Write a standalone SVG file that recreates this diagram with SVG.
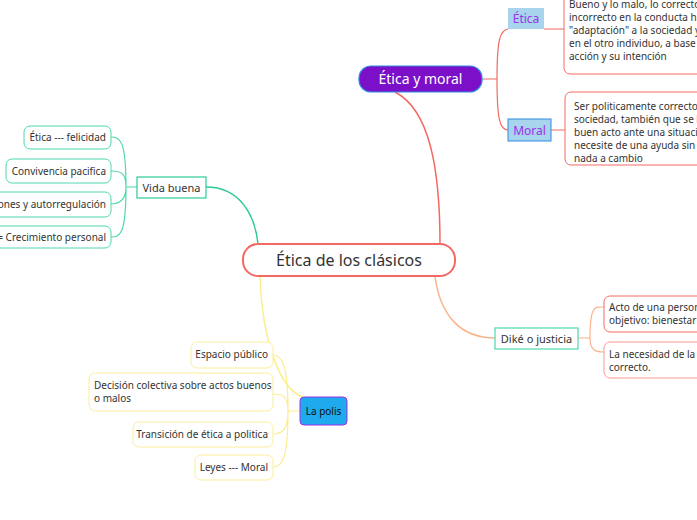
<svg xmlns="http://www.w3.org/2000/svg" width="697" height="520" viewBox="0 0 697 520">
<style>
text{font-family:"Noto Sans","Liberation Sans",sans-serif;fill:#333}
.s{font-size:10px}
.red{fill:#fff;stroke:#F26A63;stroke-width:1}
.grn{fill:#fff;stroke:#4FD8B0;stroke-width:1}
.yel{fill:#fff;stroke:#FBEE9C;stroke-width:1}
.org{fill:#fff;stroke:#F59A8E;stroke-width:1}
</style>
<rect width="697" height="520" fill="#fff"/>
<g id="connectors" fill="none" stroke-width="1.5">
<path d="M440 244 C440 170 430 110 395 92" stroke="#F26A63"/>
<path d="M482 79 L497 79 M497 79 C497 40 500 30 508 29 M497 79 C497 120 500 130 508 130" stroke="#F26A63" stroke-width="1.2"/>
<path d="M544 29 L564 29 M551 130 L565 130" stroke="#F26A63" stroke-width="1.2"/>
<path d="M258 244 C255 215 240 187 206 187" stroke="#2DCB9A"/>
<path d="M137 187 L126 187 M126 187 C126 140 120 137 111 137 M126 187 C126 172 120 171 111 171 M126 187 C126 200 120 204 111 204 M126 187 C126 235 120 237 111 237" stroke="#4FD8B0" stroke-width="1.2"/>
<path d="M435 276 C440 315 460 338 495 338" stroke="#F9B489"/>
<path d="M578 338 L590 338 M590 338 C590 305 595 307 604 307 M590 338 C590 350 595 352 604 352" stroke="#F9B489" stroke-width="1.2"/>
<path d="M260 276 C262 340 280 390 303 397" stroke="#FBEE8C"/>
<path d="M300 411 L288 411 M288 411 C288 365 282 355 273 355 M288 411 C288 395 282 394 273 394 M288 411 C288 430 282 434 273 434 M288 411 C288 460 282 467 273 467" stroke="#FBEE8C" stroke-width="1.2"/>
</g>
<g id="root"><rect x="243" y="244" width="212" height="32" rx="15" fill="#fff" stroke="#F26A63" stroke-width="2"/><text x="349" y="266" font-size="16" text-anchor="middle">Ética de los clásicos</text></g>
<g id="etica-moral"><rect x="359" y="66" width="123" height="26" rx="12" fill="#7B10C8" stroke="#2E8DE0" stroke-width="1.2"/><text x="420.5" y="84" font-size="14" text-anchor="middle" style="fill:#fff">Ética y moral</text></g>
<g id="etica"><rect x="508" y="8" width="36" height="21" fill="#A8D4EE"/><text x="526" y="23" font-size="12" text-anchor="middle" style="fill:#9B30E8">Ética</text></g>
<g id="etica-def"><rect class="red" x="564" y="-6" width="150" height="80" rx="6"/><text class="s" x="569" y="8">Bueno y lo malo, lo correcto e</text><text class="s" x="569" y="21">incorrecto en la conducta humana,</text><text class="s" x="569" y="34">"adaptación" a la sociedad y</text><text class="s" x="569" y="47">en el otro individuo, a base de su</text><text class="s" x="569" y="60">acción y su intención</text></g>
<g id="moral"><rect x="508" y="119" width="43" height="22" fill="#A8D4EE" stroke="#2E8DE0" stroke-width="1"/><text x="529.5" y="135" font-size="12" text-anchor="middle" style="fill:#9B30E8">Moral</text></g>
<g id="moral-def"><rect class="red" x="565" y="92" width="150" height="73" rx="6"/><text class="s" x="574" y="110">Ser politicamente correcto ante la</text><text class="s" x="574" y="123">sociedad, también que se haga un</text><text class="s" x="574" y="136">buen acto ante una situación que</text><text class="s" x="574" y="149">necesite de una ayuda sin recibir</text><text class="s" x="574" y="162">nada a cambio</text></g>
<g id="vida-buena"><rect x="137" y="177" width="69" height="21" fill="#fff" stroke="#2DCB9A" stroke-width="1.2"/><text x="171.5" y="192" font-size="11" text-anchor="middle">Vida buena</text></g>
<g id="vb1"><rect class="grn" x="24" y="126" width="87" height="23" rx="6"/><text class="s" x="106" y="141" text-anchor="end">Ética --- felicidad</text></g>
<g id="vb2"><rect class="grn" x="6" y="159" width="105" height="24" rx="6"/><text class="s" x="106" y="175" text-anchor="end">Convivencia pacifica</text></g>
<g id="vb3"><rect class="grn" x="-60" y="192" width="171" height="25" rx="6"/><text class="s" x="106" y="208" text-anchor="end">Decisiones y autorregulación</text></g>
<g id="vb4"><rect class="grn" x="-60" y="226" width="171" height="22" rx="6"/><text class="s" x="106" y="241" text-anchor="end">Virtud = Crecimiento personal</text></g>
<g id="dike"><rect x="495" y="328" width="83" height="21" fill="#fff" stroke="#4FD8B0" stroke-width="1.2"/><text x="536.5" y="343" font-size="11" text-anchor="middle">Diké o justicia</text></g>
<g id="dike1"><rect class="red" x="604" y="296" width="120" height="36" rx="6"/><text class="s" x="609" y="311">Acto de una persona con el</text><text class="s" x="609" y="324">objetivo: bienestar total</text></g>
<g id="dike2"><rect class="org" x="604" y="342" width="120" height="36" rx="6"/><text class="s" x="609" y="358">La necesidad de la sociedad en lo</text><text class="s" x="609" y="371">correcto.</text></g>
<g id="polis"><rect x="300" y="397" width="47" height="28" rx="4" fill="#1FAAEE" stroke="#9B30E8" stroke-width="1"/><text x="323.5" y="415" font-size="10" text-anchor="middle" style="fill:#111">La polis</text></g>
<g id="p1"><rect class="yel" x="191" y="342" width="82" height="26" rx="6"/><text class="s" x="268" y="358" text-anchor="end">Espacio público</text></g>
<g id="p2"><rect class="yel" x="89" y="373" width="184" height="38" rx="6"/><text class="s" x="94" y="389">Decisión colectiva sobre actos buenos</text><text class="s" x="94" y="402">o malos</text></g>
<g id="p3"><rect class="yel" x="133" y="422" width="140" height="25" rx="6"/><text class="s" x="268" y="438" text-anchor="end">Transición de ética a politica</text></g>
<g id="p4"><rect class="yel" x="195" y="455" width="78" height="25" rx="6"/><text class="s" x="268" y="471" text-anchor="end">Leyes --- Moral</text></g>
</svg>
